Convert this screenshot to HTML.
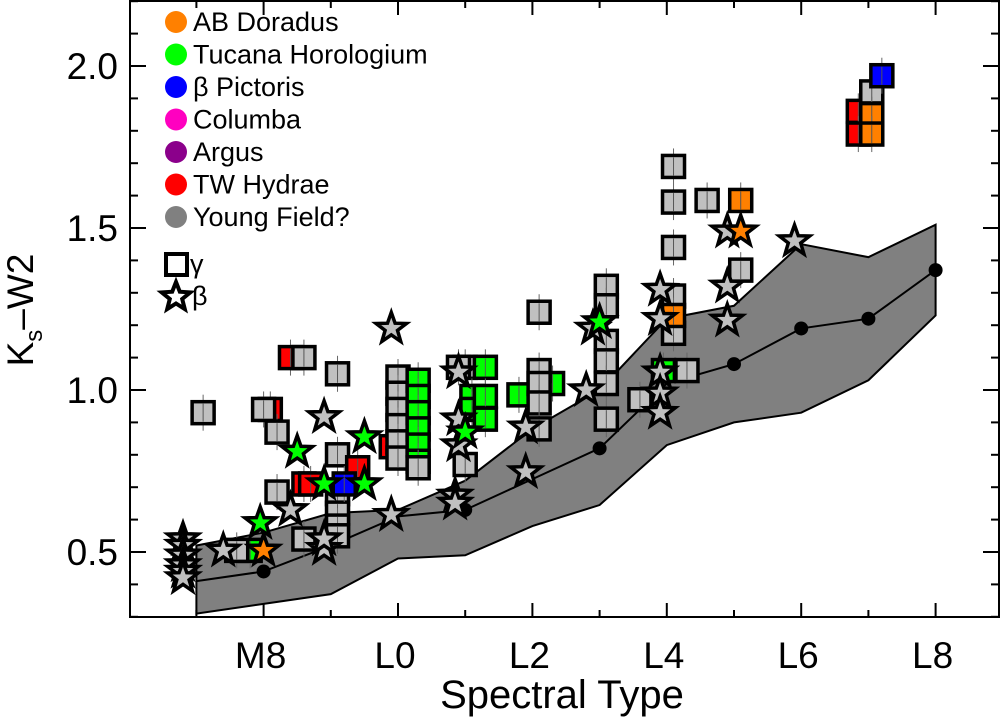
<!DOCTYPE html>
<html><head><meta charset="utf-8"><style>
body{margin:0;background:#fff;}
svg{display:block;font-family:"Liberation Sans",sans-serif;}
</style></head><body>
<svg id="chart" width="1001" height="722" viewBox="0 0 1001 722">
<defs><clipPath id="pc"><rect x="130" y="0" width="870" height="617"/></clipPath></defs>
<g id="plot" clip-path="url(#pc)"></g>
<g id="axes"></g>
<g id="legend"></g>
</svg>
<script>
// Spectral type numeric: M7=7, M8=8, M9=9, L0=10 ... L8=18
const bandTypes = [7,8,9,10,11,12,13,14,15,16,17,18];
const bandUpper = [0.52,0.56,0.62,0.63,0.72,0.88,1.0,1.22,1.26,1.45,1.41,1.51];
const bandLower = [0.31,0.34,0.37,0.48,0.49,0.58,0.645,0.83,0.90,0.93,1.03,1.23];
const medianTypes = [7,8,9,10,11,12,13,14,15,16,17,18];
const medianValues = [0.41,0.44,0.52,0.61,0.63,0.725,0.82,1.02,1.08,1.19,1.22,1.37];
const medianDots = [8,11,13,15,16,17,18];
const xTickLabels = ["M8","L0","L2","L4","L6","L8"];
const xTickTypes = [8,10,12,14,16,18];
const yTickLabels = ["0.5","1.0","1.5","2.0"];
// Gamma (square) points: type, value, group
const sqType = [7.1,8.1,8.0,8.2,8.2,8.4,8.6,9.1,9.1,9.1,9.1,9.1,9.1,7.8,7.6,8.6,8.6,8.7,9.4,9.9,9.2,
 10.0,10.0,10.0,10.0,10.0,10.0,10.3,10.3,10.3,10.3,10.3,10.3,10.3,
 11.0,10.9,11.0,11.1,11.1,11.3,11.3,11.3,11.8,12.3,12.1,12.1,12.1,12.1,
 13.1,13.1,13.1,13.1,13.1,13.1,12.1,
 13.6,14.1,14.1,14.1,14.1,14.1,14.1,14.3,13.95,
 14.6,15.1,15.1,16.85,16.85,17.05,17.05,17.05,17.2];
const sqValue = [0.93,0.94,0.94,0.87,0.685,1.10,1.10,1.05,0.80,0.68,0.62,0.58,0.55,0.505,0.505,0.54,0.71,0.71,0.76,0.825,0.71,
 1.04,0.99,0.94,0.89,0.84,0.79,1.03,0.98,0.93,0.88,0.83,0.78,0.76,
 1.07,1.07,0.77,0.98,0.94,1.07,0.98,0.91,0.985,1.02,1.24,1.06,1.02,0.96,
 1.32,1.26,1.15,1.09,1.02,0.91,0.88,
 0.97,1.69,1.58,1.44,1.29,1.175,1.23,1.06,1.06,
 1.585,1.585,1.37,1.86,1.79,1.92,1.85,1.79,1.97];
const sqGroup = ["yf","tw","yf","yf","yf","tw","yf","yf","yf","yf","yf","yf","yf","tuc","yf","yf","tw","tw","tw","tw","bp",
 "yf","yf","yf","yf","yf","yf","tuc","tuc","tuc","tuc","tuc","tuc","yf",
 "yf","yf","yf","tuc","tuc","tuc","tuc","tuc","tuc","tuc","yf","yf","yf","yf",
 "yf","yf","yf","yf","yf","yf","yf",
 "yf","yf","yf","yf","yf","yf","ab","yf","tuc",
 "yf","ab","yf","tw","tw","yf","ab","ab","bp"];
// Beta (star) points
const stType = [6.8,6.8,6.8,6.8,6.8,6.8,7.4,8.0,7.95,8.4,8.5,8.9,9.5,8.9,9.5,8.9,8.9,9.9,9.9,
 10.9,10.9,10.9,10.85,10.85,11.0,11.9,11.9,12.8,12.9,13.0,
 13.9,13.9,13.9,13.9,13.9,14.9,15.1,14.9,14.9,15.9];
const stValue = [0.54,0.52,0.49,0.46,0.44,0.42,0.505,0.505,0.59,0.63,0.81,0.917,0.855,0.71,0.71,0.51,0.54,0.615,1.19,
 1.055,0.91,0.83,0.675,0.65,0.87,0.885,0.747,1.0,1.19,1.21,
 1.31,1.22,1.055,0.99,0.93,1.49,1.49,1.32,1.215,1.46];
const stGroup = ["yf","yf","yf","yf","yf","yf","yf","ab","tuc","yf","tuc","yf","tuc","tuc","tuc","yf","yf","yf","yf",
 "yf","yf","yf","yf","yf","tuc","yf","yf","yf","yf","tuc",
 "yf","yf","yf","yf","yf","yf","ab","yf","yf","yf"];
const groupColor = {ab:"#ff8000",tuc:"#00ff00",bp:"#0000ff",col:"#ff00c0",arg:"#8b008b",tw:"#ff0000",yf:"#c0c0c0"};
const legendLabels = ["AB Doradus","Tucana Horologium","\u03b2 Pictoris","Columba","Argus","TW Hydrae","Young Field?"];
const legendColors = ["#ff8000","#00ff00","#0000ff","#ff00c0","#8b008b","#ff0000","#808080"];

const X = s => 398 + (s-10)*67.2;
const Y = v => 552 - (v-0.5)*324;
const NS = "http://www.w3.org/2000/svg";
function mk(tag, parent, attrs){const e=document.createElementNS(NS,tag);for(const k in attrs)e.setAttribute(k,attrs[k]);parent.appendChild(e);return e;}
const plot=document.getElementById('plot'), axes=document.getElementById('axes'), legend=document.getElementById('legend');

// band
let pts=bandTypes.map((t,i)=>X(t)+","+Y(bandUpper[i]));
for(let i=bandTypes.length-1;i>=0;i--)pts.push(X(bandTypes[i])+","+Y(bandLower[i]));
const band=mk('polygon',plot,{points:pts.join(" "),fill:"#808080",stroke:"#000","stroke-width":2});


const med=mk('polyline',plot,{points:medianTypes.map((t,i)=>X(t)+","+Y(medianValues[i])).join(" "),fill:"none",stroke:"#000","stroke-width":2});


medianDots.forEach(t=>{const i=medianTypes.indexOf(t);
 const c=mk('circle',plot,{cx:X(t),cy:Y(medianValues[i]),r:7,fill:"#000"});
 
 });

function starPts(cx,cy,R,r){let p=[];for(let k=0;k<10;k++){const a=-Math.PI/2+k*Math.PI/5;const rr=k%2?r:R;p.push((cx+rr*Math.cos(a)).toFixed(1)+","+(cy+rr*Math.sin(a)).toFixed(1));}return p.join(" ");}

sqType.forEach((t,i)=>{const cx=X(t),cy=Y(sqValue[i]);
 mk('line',plot,{x1:cx,y1:cy-18,x2:cx,y2:cy+18,stroke:"#666","stroke-width":1});
 const r=mk('rect',plot,{x:cx-11,y:cy-11,width:22,height:22,fill:groupColor[sqGroup[i]],stroke:"#000","stroke-width":3.5});
 
 
 mk('line',plot,{x1:cx,y1:cy-9,x2:cx,y2:cy+9,stroke:"#555","stroke-width":1});
});
stType.forEach((t,i)=>{const cx=X(t),cy=Y(stValue[i]);
 const s=mk('polygon',plot,{points:starPts(cx,cy,16,6.5),fill:groupColor[stGroup[i]],stroke:"#000","stroke-width":3.5,"stroke-linejoin":"miter"});
 
 
});

// axes frame
mk('rect',axes,{x:130,y:1,width:869,height:616,fill:"none",stroke:"#000","stroke-width":2});
for(let t=7;t<=18;t++){const x=X(t),major=(t%2===0),L=major?14:7;
 mk('line',axes,{x1:x,y1:617,x2:x,y2:617-L,stroke:"#000","stroke-width":2});
 mk('line',axes,{x1:x,y1:1,x2:x,y2:1+L,stroke:"#000","stroke-width":2});}
xTickTypes.forEach((t,i)=>{const tx=mk('text',axes,{x:X(t)-3,y:668,"font-size":37,"text-anchor":"middle"});tx.textContent=xTickLabels[i];
 
 });
for(let k=3;k<=22;k++){const v=k/10,y=Y(v),major=(k%5===0),L=major?16:8;
 mk('line',axes,{x1:130,y1:y,x2:130+L,y2:y,stroke:"#000","stroke-width":2});
 mk('line',axes,{x1:999,y1:y,x2:999-L,y2:y,stroke:"#000","stroke-width":2});}
yTickLabels.forEach(l=>{const tx=mk('text',axes,{x:118,y:Y(parseFloat(l))+13,"font-size":37,"text-anchor":"end"});tx.textContent=l;
 
 });
const xt=mk('text',axes,{x:562,y:708,"font-size":40,"text-anchor":"middle"});xt.textContent="Spectral Type";


const yt=mk('text',axes,{transform:"translate(33,310) rotate(-90)","font-size":37,"text-anchor":"middle"});
yt.innerHTML='K<tspan font-size="24" dy="9">s</tspan><tspan dy="-9">\u2013W2</tspan>';



// legend
legendLabels.forEach((l,i)=>{const y=22+i*32.5;
 const c=mk('circle',legend,{cx:176,cy:y,r:11,fill:legendColors[i]});
 
 
 const t=mk('text',legend,{x:193,y:y+9,"font-size":27});t.textContent=l;
 
 });
const gs=mk('rect',legend,{x:166,y:254,width:21,height:21,fill:"#fff",stroke:"#000","stroke-width":4});


const gt=mk('text',legend,{x:190,y:273,"font-size":27});gt.textContent="\u03b3";


const bs=mk('polygon',legend,{points:starPts(176,297,15,6.5),fill:"#fff",stroke:"#000","stroke-width":4});


const bt=mk('text',legend,{x:192,y:305,"font-size":27});bt.textContent="\u03b2";


</script>
</body></html>
